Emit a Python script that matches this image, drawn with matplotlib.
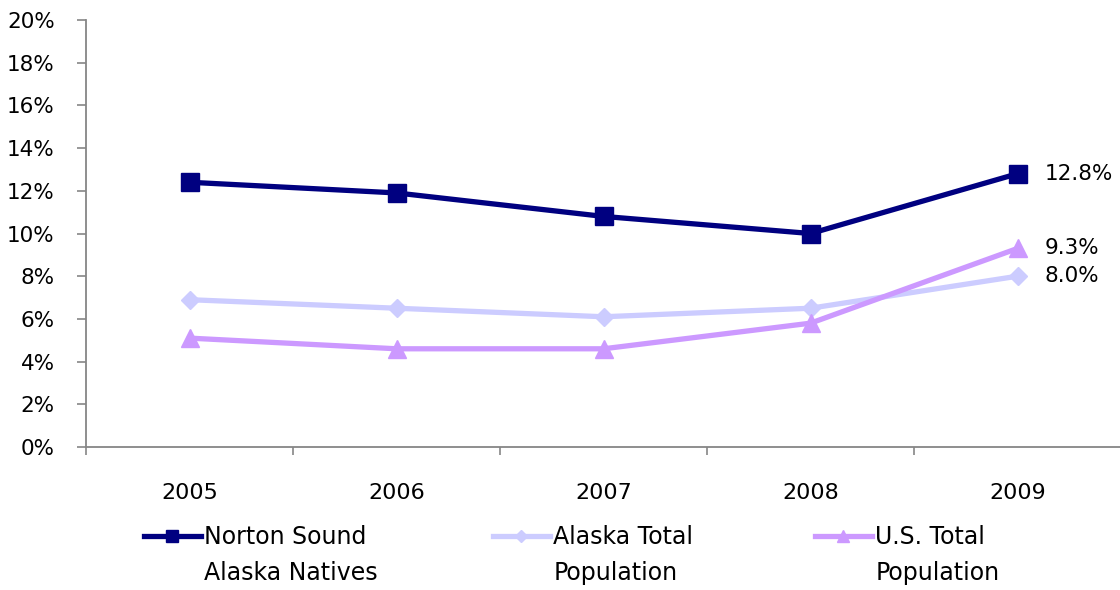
import numpy as np
import matplotlib
matplotlib.use('Agg')
import matplotlib.pyplot as plt

# ---------------- data ----------------
years = ['2005', '2006', '2007', '2008', '2009']
norton = [12.4, 11.9, 10.8, 10.0, 12.8]
alaska = [6.9, 6.5, 6.1, 6.5, 8.0]
us_total = [5.1, 4.6, 4.6, 5.8, 9.3]

labels_line1 = ['Norton Sound', 'Alaska Total', 'U.S. Total']
labels_line2 = ['Alaska Natives', 'Population', 'Population']

plt.rcParams['font.family'] = ['DejaVu Sans']

fig = plt.figure(figsize=(11.2, 5.9), dpi=100)
ax = fig.add_axes([86 / 1120, 1 - 447 / 590, 1035 / 1120, 427 / 590])

x = np.arange(len(years))
series = [
    (norton, '#000080', 's', 13),
    (alaska, '#CCCCFF', 'D', 9),
    (us_total, '#CC99FF', '^', 13),
]
handles = []
for vals, col, mk, ms in series:
    h, = ax.plot(x, vals, color=col, lw=3.8, marker=mk, ms=ms,
                 mfc=col, mec=col, mew=1, solid_joinstyle='miter')
    handles.append(h)

# end-of-line data labels
for vals in [norton, us_total, alaska]:
    ax.annotate(f'{vals[-1]:.1f}%', (x[-1], vals[-1]), xytext=(19.5, 0),
                textcoords='offset points', va='center', ha='left',
                fontsize=15.5, color='black', annotation_clip=False)

# axes styling
ax.set_xlim(-0.5, 4.5)
ax.set_ylim(0, 20)
ax.set_yticks(np.arange(0, 21, 2))
ax.set_yticklabels([f'{v}%' for v in range(0, 21, 2)])
ax.set_xticks(x)
ax.set_xticklabels(years)
ax.set_xticks(np.arange(-0.5, 5, 1), minor=True)

for s in ['top', 'right']:
    ax.spines[s].set_visible(False)
for s in ['left', 'bottom']:
    ax.spines[s].set_color('#868686')
    ax.spines[s].set_linewidth(1.3)

ax.tick_params(axis='y', direction='out', length=6.5, width=1.2,
               color='#868686', pad=16, labelsize=15.5)
ax.tick_params(axis='x', which='major', length=0, pad=26, labelsize=16)
ax.tick_params(axis='x', which='minor', direction='out', length=6,
               width=1.2, color='#868686')

# legend: one entry per block, second line added under the text
leg_x = [144 / 1120, 493 / 1120, 815 / 1120]
leg_y = 1 - 537 / 590
legends = []
for h, lab, lx in zip(handles, labels_line1, leg_x):
    lg = fig.legend([h], [lab], loc='center left', bbox_to_anchor=(lx, leg_y),
                    frameon=False, fontsize=17, handlelength=2.4,
                    handletextpad=0.15, borderpad=0, borderaxespad=0,
                    markerscale=0.7)
    legends.append(lg)

fig.canvas.draw()
renderer = fig.canvas.get_renderer()
for lg, lab2 in zip(legends, labels_line2):
    bb = lg.get_texts()[0].get_window_extent(renderer)
    fx = bb.x0 / fig.bbox.width
    fig.text(fx, 1 - 573 / 590, lab2, fontsize=17, va='center', ha='left')

fig.savefig('out.png', dpi=100, facecolor='white')
